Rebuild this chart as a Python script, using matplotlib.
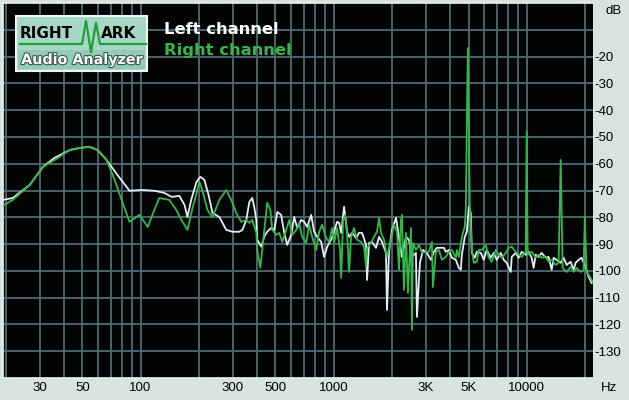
import numpy as np
import matplotlib
matplotlib.use("Agg")
import matplotlib.pyplot as plt
import matplotlib.patheffects as pe
from matplotlib.lines import Line2D
from matplotlib.patches import Rectangle

# spectrum (Hz, dB)
left_freq = [19.4, 21.8, 26.7, 31.2, 35.9, 43.0, 48.4, 54.5, 60.0, 66.7,
             76.0, 87.7, 102, 118, 133, 145, 159, 169, 175, 183,
             195, 204, 214, 225, 236, 256, 278, 299, 325, 337,
             353, 366, 379, 388, 398, 402, 422, 437, 453, 475,
             493, 511, 535, 555, 575, 603, 625, 648, 679, 704,
             730, 765, 793, 822, 862, 893, 926, 971, 1006, 1042,
             1068, 1094, 1133, 1174, 1203, 1246, 1307, 1354, 1404, 1472,
             1490, 1526, 1581, 1658, 1719, 1781, 1868, 1890, 1936, 2006,
             2104, 2181, 2259, 2370, 2456, 2545, 2669, 2701, 2799, 2901,
             3042, 3191, 3307, 3427, 3594, 3725, 3814, 3953, 4096, 4296,
             4452, 4560, 4614, 4782, 4897, 5015, 5135, 5197, 5386, 5515,
             5784, 5994, 6212, 6516, 6752, 6998, 7339, 7606, 7882, 8267,
             8366, 8775, 9093, 9423, 9880, 10240, 10610, 10870, 11130, 11530,
             11950, 12540, 12990, 13470, 13790, 14290, 14990, 15540, 16100, 16880,
             17500, 17920, 18570, 19240, 20180, 20910, 21670]
left_db = [-73.5, -72.8, -67.9, -61.2, -57.8, -54.9, -54.1, -53.7, -54.9, -58.6,
           -64.2, -70.1, -69.8, -70.1, -70.9, -72.4, -72.0, -75.4, -79.9, -73.5,
           -66.8, -64.9, -66.0, -71.6, -78.4, -79.9, -84.7, -85.4, -85.4, -84.7,
           -81.0, -74.3, -72.8, -76.1, -81.0, -88.4, -91.0, -87.3, -85.4, -84.0,
           -84.7, -78.0, -79.1, -85.8, -90.3, -86.6, -79.9, -84.0, -81.0, -81.7,
           -83.6, -79.1, -85.4, -87.3, -89.2, -94.8, -91.0, -88.4, -85.4, -81.7,
           -82.1, -85.8, -76.1, -85.4, -87.3, -85.8, -87.7, -85.8, -85.8, -90.3,
           -103.4, -89.6, -89.2, -91.4, -87.3, -89.2, -93.3, -114.6, -92.9, -84.7,
           -80.2, -87.7, -94.8, -87.3, -88.4, -94.8, -93.3, -117.2, -97.0, -92.2,
           -93.3, -95.9, -92.9, -91.4, -91.4, -91.4, -92.9, -92.2, -95.1, -95.9,
           -98.9, -99.6, -94.0, -87.3, -85.4, -76.1, -78.4, -93.3, -95.1, -92.9,
           -93.3, -95.9, -92.2, -95.1, -93.3, -95.9, -93.3, -95.9, -97.0, -100.4,
           -94.8, -93.3, -95.1, -92.9, -94.0, -92.9, -95.1, -98.9, -94.0, -94.8,
           -93.3, -95.1, -94.8, -99.6, -95.1, -95.9, -97.0, -95.1, -97.8, -96.6,
           -99.6, -97.0, -95.9, -95.1, -98.5, -102.2, -104.5]

right_freq = [19.4, 21.8, 26.7, 31.2, 35.9, 43.0, 48.4, 54.5, 60.0, 66.7,
              73.4, 79.8, 87.7, 98.8, 109, 118, 125, 141, 153, 163,
              175, 186, 202, 212, 222, 236, 256, 278, 295, 313,
              333, 353, 366, 379, 398, 402, 417, 427, 443, 453,
              470, 481, 505, 523, 542, 568, 589, 610, 640, 663,
              687, 721, 747, 774, 812, 842, 872, 915, 948, 982,
              1006, 1042, 1080, 1094, 1120, 1147, 1174, 1203, 1231, 1276,
              1322, 1387, 1438, 1472, 1490, 1562, 1619, 1678, 1719, 1760,
              1824, 1890, 1983, 2055, 2129, 2181, 2233, 2259, 2313, 2370,
              2427, 2515, 2545, 2575, 2669, 2767, 2867, 3006, 3115, 3228,
              3268, 3386, 3509, 3637, 3814, 3953, 4096, 4296, 4347, 4452,
              4560, 4670, 4782, 4839, 4956, 5075, 5135, 5197, 5322, 5515,
              5648, 5854, 6140, 6362, 6593, 6915, 7166, 7426, 7789, 8072,
              8366, 8775, 9093, 9423, 9880, 10000, 10120, 10610, 11130, 11530,
              11950, 12540, 12990, 13470, 14120, 14630, 15000, 15350, 16100, 16880,
              17500, 18130, 19020, 19710, 20000, 20420, 21410, 21930]
right_db = [-75.7, -73.5, -67.9, -61.2, -58.6, -54.9, -54.1, -53.7, -54.9, -58.6,
            -66.0, -73.5, -81.7, -79.1, -83.6, -77.2, -72.8, -73.5, -77.2, -81.0,
            -84.7, -76.5, -66.8, -71.6, -77.2, -79.9, -73.5, -69.8, -73.5, -78.4,
            -81.7, -81.0, -82.1, -81.0, -85.8, -92.2, -98.9, -92.2, -81.0, -74.6,
            -77.2, -84.7, -86.6, -85.8, -89.2, -84.7, -81.0, -86.6, -84.7, -82.1,
            -87.3, -89.6, -82.8, -87.3, -92.2, -85.4, -82.8, -87.7, -89.2, -84.0,
            -89.6, -84.0, -92.2, -102.6, -81.0, -79.1, -85.8, -100.4, -87.3, -84.0,
            -88.4, -89.2, -91.0, -98.5, -91.4, -89.6, -87.3, -85.4, -80.2, -85.8,
            -88.4, -94.8, -88.4, -82.8, -85.4, -99.6, -81.0, -79.1, -107.1, -85.8,
            -108.2, -84.0, -122.0, -89.6, -92.2, -90.3, -93.3, -92.9, -92.9, -89.2,
            -106.0, -92.9, -92.2, -95.9, -94.8, -92.9, -92.2, -95.1, -92.2, -94.8,
            -89.6, -85.8, -83.6, -76.1, -16.8, -76.1, -83.6, -92.2, -97.0, -96.6,
            -92.2, -92.2, -90.3, -95.1, -96.6, -92.2, -94.0, -95.1, -93.3, -91.4,
            -91.0, -92.9, -94.0, -94.8, -92.9, -47.8, -94.0, -92.9, -95.1, -94.0,
            -95.1, -94.8, -96.6, -95.9, -97.8, -97.0, -58.6, -98.9, -100.4, -98.5,
            -100.4, -98.9, -100.4, -99.6, -79.9, -100.4, -102.6, -104.1]

x_tick_vals = [30, 50, 100, 300, 500, 1000, 3000, 5000, 10000]
x_tick_labels = ["30", "50", "100", "300", "500", "1000", "3K", "5K", "10000"]
x_grid_vals = [20, 30, 40, 50, 60, 70, 80, 90, 100, 200, 300, 400, 500, 600, 700, 800, 900,
               1000, 2000, 3000, 4000, 5000, 6000, 7000, 8000, 9000, 10000, 20000]
y_tick_vals = [-20, -30, -40, -50, -60, -70, -80, -90, -100, -110, -120, -130]
y_grid_vals = [-10] + y_tick_vals

bg = "#d6e3df"
grid_col = "#4f6a72"
white_col = "#e4eef6"
green_col = "#35b64a"

fig = plt.figure(figsize=(6.29, 4.0), dpi=100, facecolor=bg)
ax = fig.add_axes([3 / 629, 22 / 400, 590 / 629, 375 / 400])
ax.set_facecolor("#020404")

ax.set_xscale("log")
ax.set_xlim(19.4, 22050)
ax.set_ylim(-140, 0)

ax.set_xticks(x_tick_vals)
ax.set_xticklabels(x_tick_labels)
ax.set_xticks(x_grid_vals, minor=True)
ax.xaxis.set_minor_formatter(matplotlib.ticker.NullFormatter())
ax.set_yticks(y_tick_vals)
ax.set_yticklabels([str(v) for v in y_tick_vals])
ax.set_yticks(y_grid_vals, minor=True)

ax.grid(False)
for f in x_grid_vals:
    ax.axvline(f, color=grid_col, lw=1.3, zorder=1)
for v in y_grid_vals:
    ax.axhline(v, color=grid_col, lw=1.3, zorder=1)

ax.tick_params(which="both", length=0, labelsize=9.5, colors="black")
ax.tick_params(axis="x", pad=3)
ax.tick_params(axis="y", left=False, labelleft=False, labelright=True, pad=1)
for lab in ax.get_xticklabels() + ax.get_yticklabels():
    lab.set_fontfamily("Liberation Sans")
for lab in ax.get_yticklabels():
    lab.set_horizontalalignment("left")

for side in ["top", "left", "bottom"]:
    ax.spines[side].set_color("#e8f0ee")
    ax.spines[side].set_linewidth(1.2)
ax.spines["right"].set_visible(False)

ax.plot(left_freq, left_db, color=white_col, lw=1.3, zorder=3)
ax.plot(right_freq, right_db, color=green_col, lw=1.3, zorder=4)

fig.text(605 / 629, 1 - 11 / 400, "dB", fontsize=9.5, family="Liberation Sans", va="center")
fig.text(601 / 629, 1 - 388 / 400, "Hz", fontsize=9.5, family="Liberation Sans", va="center")

# legend texts
fig.text(164 / 629, 1 - 30 / 400, "Left channel", color="white", fontsize=11.8,
         va="center", fontweight="bold")
fig.text(164 / 629, 1 - 50 / 400, "Right channel", color=green_col, fontsize=11.8,
         va="center", fontweight="bold")

# RightMark logo
W, H = 629.0, 400.0
fig.patches.append(Rectangle((16 / W, 1 - 71 / H), 131 / W, 55 / H, transform=fig.transFigure,
                             facecolor="#a6d6c4", edgecolor="#eef6f3", lw=1.5, zorder=5))
fig.patches.append(Rectangle((18 / W, 1 - 69 / H), 127 / W, 19 / H, transform=fig.transFigure,
                             facecolor="#94cbb6", edgecolor="none", zorder=5))
lx = [20, 82, 86, 91, 96, 100, 103, 146]
ly = [44, 44, 21, 52, 23, 44, 44, 44]
fig.lines.append(Line2D([v / W for v in lx], [1 - v / H for v in ly], transform=fig.transFigure,
                        color="#1ea03a", lw=1.6, zorder=6))
fig.text(20 / W, 1 - 34 / H, "RIGHT", fontsize=11, fontweight="bold", color="black",
         va="center", zorder=7)
fig.text(101 / W, 1 - 34 / H, "ARK", fontsize=11, fontweight="bold", color="black",
         va="center", zorder=7)
fig.text(82 / W, 1 - 60 / H, "Audio Analyzer", fontsize=10.3, fontweight="bold", color="white",
         ha="center", va="center", zorder=7,
         path_effects=[pe.withStroke(linewidth=1.6, foreground="#3a5a50")])

fig.savefig("out.png", dpi=100, facecolor=bg)
